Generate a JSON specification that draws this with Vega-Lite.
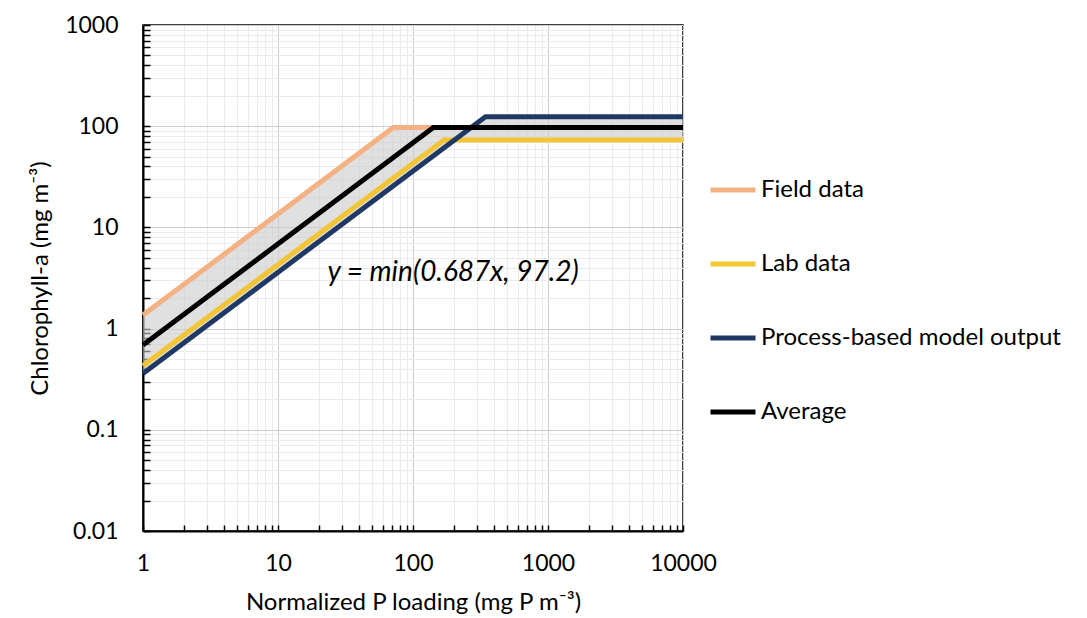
{
  "$schema": "https://vega.github.io/schema/vega-lite/v6.json",
  "width": 540,
  "height": 506,
  "autosize": "none",
  "padding": {"left": 143, "top": 25, "right": 404, "bottom": 87},
  "background": "white",
  "config": {
    "font": "Lato",
    "view": {"stroke": "#000", "strokeWidth": 1.5}
  },
  "datasets": {
    "lines": [
      {"series": "Field data", "x": 1, "y": 1.36},
      {"series": "Field data", "x": 71.5, "y": 97.2},
      {"series": "Field data", "x": 10000, "y": 97.2},
      {"series": "Lab data", "x": 1, "y": 0.43},
      {"series": "Lab data", "x": 170, "y": 73},
      {"series": "Lab data", "x": 10000, "y": 73},
      {"series": "Process-based model output", "x": 1, "y": 0.36},
      {"series": "Process-based model output", "x": 344.4, "y": 124},
      {"series": "Process-based model output", "x": 10000, "y": 124},
      {"series": "Average", "x": 1, "y": 0.687},
      {"series": "Average", "x": 141.5, "y": 97.2},
      {"series": "Average", "x": 10000, "y": 97.2}
    ],
    "envelope": [
      {"x": 1, "y": 1.36, "lower": 0.36},
      {"x": 71.5, "y": 97.2, "lower": 25.74},
      {"x": 202.8, "y": 97.2, "lower": 73},
      {"x": 270, "y": 97.2, "lower": 73},
      {"x": 344.4, "y": 124, "lower": 73},
      {"x": 10000, "y": 124, "lower": 73}
    ],
    "note": [
      {"x": 198, "y": 3.54, "label": "y = min(0.687x, 97.2)"}
    ]
  },
  "encoding": {
    "x": {
      "field": "x",
      "type": "quantitative",
      "scale": {"type": "log", "domain": [1, 10000], "nice": false},
      "axis": {
        "values": [1,2,3,4,5,6,7,8,9,10,20,30,40,50,60,70,80,90,100,200,300,400,500,600,700,800,900,1000,2000,3000,4000,5000,6000,7000,8000,9000,10000],
        "labelExpr": "indexof([1,10,100,1000,10000], datum.value) >= 0 ? format(datum.value, 'd') : ''",
        "labelOverlap": false,
        "labelBound": false,
        "labelFlush": false,
        "grid": true,
        "gridColor": {"condition": {"test": "indexof([1,10,100,1000,10000], datum.value) >= 0", "value": "#cdcdcd"}, "value": "#ebebeb"},
        "gridWidth": 1,
        "tickSize": -6,
        "tickColor": "#000",
        "tickWidth": 1.5,
        "domainColor": "#000",
        "domainWidth": 2,
        "labelFontSize": 23,
        "labelColor": "#000",
        "labelPadding": 27,
        "title": "Normalized P loading (mg P m⁻³)",
        "titleFontSize": 24,
        "titleFontWeight": "normal",
        "titleColor": "#000",
        "titlePadding": 15
      }
    },
    "y": {
      "field": "y",
      "type": "quantitative",
      "scale": {"type": "log", "domain": [0.01, 1000], "nice": false},
      "axis": {
        "values": [0.01,0.02,0.03,0.04,0.05,0.06,0.07,0.08,0.09,0.1,0.2,0.3,0.4,0.5,0.6,0.7,0.8,0.9,1,2,3,4,5,6,7,8,9,10,20,30,40,50,60,70,80,90,100,200,300,400,500,600,700,800,900,1000],
        "labelExpr": "indexof([0.01,0.1,1,10,100,1000], datum.value) >= 0 ? '' + datum.value : ''",
        "labelOverlap": false,
        "labelBound": false,
        "labelFlush": false,
        "grid": true,
        "gridColor": {"condition": {"test": "indexof([0.01,0.1,1,10,100,1000], datum.value) >= 0", "value": "#cdcdcd"}, "value": "#ebebeb"},
        "gridWidth": 1,
        "tickSize": -7,
        "tickColor": "#000",
        "tickWidth": 1.5,
        "domainColor": "#000",
        "domainWidth": 2,
        "labelFontSize": 23,
        "labelColor": "#000",
        "labelPadding": 32,
        "title": "Chlorophyll-a (mg m⁻³)",
        "titleFontSize": 24,
        "titleFontWeight": "normal",
        "titleColor": "#000",
        "titlePadding": 12
      }
    }
  },
  "layer": [
    {
      "data": {"name": "envelope"},
      "mark": {"type": "area", "color": "#cccccc", "opacity": 0.6},
      "encoding": {
        "y2": {"field": "lower"}
      }
    },
    {
      "data": {"name": "lines"},
      "mark": {"type": "line", "strokeCap": "butt", "strokeJoin": "miter"},
      "encoding": {
        "color": {
          "field": "series",
          "type": "nominal",
          "scale": {
            "domain": ["Field data", "Lab data", "Process-based model output", "Average"],
            "range": ["#f4b183", "#f3c534", "#1f3864", "#000000"]
          },
          "legend": {
            "title": null,
            "orient": "none",
            "legendX": 565,
            "legendY": 140,
            "symbolType": "stroke",
            "symbolSize": 2025,
            "labelFontSize": 24,
            "labelColor": "#000",
            "labelOffset": 3,
            "rowPadding": 37,
            "labelLimit": 400
          }
        },
        "strokeWidth": {
          "field": "series",
          "type": "nominal",
          "scale": {
            "domain": ["Field data", "Lab data", "Process-based model output", "Average"],
            "range": [5, 5, 5, 7.5]
          },
          "legend": {
            "title": null,
            "orient": "none",
            "legendX": 565,
            "legendY": 140,
            "symbolType": "stroke",
            "symbolSize": 2025,
            "labelFontSize": 24,
            "labelColor": "#000",
            "labelOffset": 3,
            "rowPadding": 37,
            "labelLimit": 400
          }
        }
      }
    },
    {
      "data": {"name": "note"},
      "mark": {"type": "text", "fontStyle": "italic", "fontSize": 28, "color": "#000", "align": "center", "baseline": "middle"},
      "encoding": {
        "text": {"field": "label"}
      }
    }
  ]
}
